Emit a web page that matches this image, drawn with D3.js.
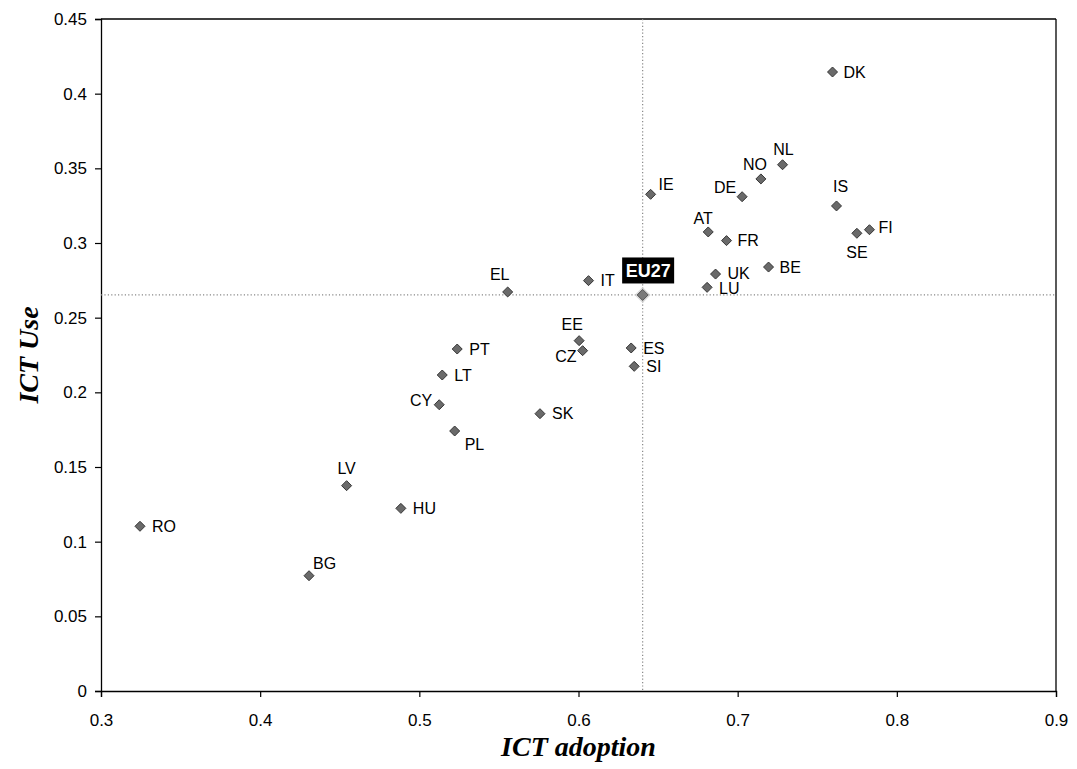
<!DOCTYPE html>
<html>
<head>
<meta charset="utf-8">
<script src="https://cdn.jsdelivr.net/npm/d3@7"></script>
<style>
  html, body { margin: 0; padding: 0; background: #fff; }
  svg { display: block; }
</style>
</head>
<body>
<svg id="chart" width="1077" height="769"></svg>
<script>
// ---- Data ----
const countries = ["DK","NL","NO","DE","IE","AT","FR","IS","SE","FI","BE","UK","LU","IT","EE","CZ","ES","SI","SK","EL","PT","LT","CY","PL","LV","HU","RO","BG"];
const ictAdoption = [0.7596,0.7282,0.7146,0.7028,0.6453,0.6815,0.6930,0.7621,0.7749,0.7828,0.7194,0.6861,0.6808,0.6063,0.6004,0.6026,0.6331,0.6350,0.5758,0.5555,0.5238,0.5144,0.5125,0.5222,0.4543,0.4884,0.3245,0.4307];
const ictUse      = [0.4145,0.3524,0.3429,0.3310,0.3326,0.3074,0.3016,0.3248,0.3065,0.3089,0.2839,0.2792,0.2703,0.2748,0.2346,0.2279,0.2297,0.2174,0.1857,0.2672,0.2290,0.2116,0.1917,0.1741,0.1375,0.1223,0.1103,0.0772];
const euLabel = "EU27";
const euAdoption = 0.6403;
const euUse = 0.2652;
const xTicks = [0.3,0.4,0.5,0.6,0.7,0.8,0.9];
const yTicks = [0,0.05,0.1,0.15,0.2,0.25,0.3,0.35,0.4,0.45];
const xTitle = "ICT adoption";
const yTitle = "ICT Use";

// ---- Label placement (layout only) ----
const labelOffsets = {
  DK:[11,0,"start"], NL:[1,-16,"middle"], NO:[-6,-15,"middle"], DE:[-6,-9,"end"],
  IE:[8,-10,"start"], AT:[-5,-14,"middle"], FR:[11,0,"start"], IS:[4,-20,"middle"],
  SE:[0,19,"middle"], FI:[9,-2,"start"], BE:[11,0,"start"], UK:[12,-1,"start"],
  LU:[12,1,"start"], IT:[12,0,"start"], EE:[-7,-16,"middle"], CZ:[-6,6,"end"],
  ES:[12,0,"start"], SI:[12,0,"start"], SK:[12,0,"start"], EL:[-8,-18,"middle"],
  PT:[12,0,"start"], LT:[12,0,"start"], CY:[-7,-4,"end"], PL:[10,13,"start"],
  LV:[0,-17,"middle"], HU:[12,0,"start"], RO:[12,0,"start"], BG:[4,-12,"start"]
};

const svg = d3.select("#chart");
const x = d3.scaleLinear().domain([0.3, 0.9]).range([101, 1056]);
const y = d3.scaleLinear().domain([0, 0.45]).range([691, 19]);

const fmt = d => String(+d.toFixed(2));

// frame (top & right)
svg.append("line").attr("x1", x(0.3)).attr("x2", x(0.9)).attr("y1", y(0.45)).attr("y2", y(0.45))
  .attr("stroke", "#000").attr("stroke-width", 1.3);
svg.append("line").attr("x1", x(0.9)).attr("x2", x(0.9)).attr("y1", y(0.45)).attr("y2", y(0))
  .attr("stroke", "#000").attr("stroke-width", 1.3);

// axes
const xAxis = svg.append("g").attr("transform", `translate(0,${y(0)})`)
  .call(d3.axisBottom(x).tickValues(xTicks).tickFormat(fmt).tickSizeOuter(0).tickSize(6).tickPadding(17));
const yAxis = svg.append("g").attr("transform", `translate(${x(0.3)},0)`)
  .call(d3.axisLeft(y).tickValues(yTicks).tickFormat(fmt).tickSizeOuter(0).tickSize(6).tickPadding(8));
[xAxis, yAxis].forEach(g => {
  g.select(".domain").attr("stroke", "#000").attr("stroke-width", 1.3);
  g.selectAll(".tick line").attr("stroke", "#000").attr("stroke-width", 1.2);
  g.selectAll(".tick text").attr("font-family", "Liberation Sans, Arial, sans-serif")
    .attr("font-size", 17).attr("fill", "#000");
});

// reference lines through EU27
svg.append("line").attr("x1", x(euAdoption)).attr("x2", x(euAdoption)).attr("y1", y(0.45)).attr("y2", y(0))
  .attr("stroke", "#888").attr("stroke-width", 1.2).attr("stroke-dasharray", "1.2,2.2");
svg.append("line").attr("x1", x(0.3)).attr("x2", x(0.9)).attr("y1", y(euUse)).attr("y2", y(euUse))
  .attr("stroke", "#888").attr("stroke-width", 1.2).attr("stroke-dasharray", "1.2,2.2");

// points
const data = countries.map((c, i) => ({ c, xa: ictAdoption[i], yu: ictUse[i] }));
const diamondPath = "M0,-5L5,0L0,5L-5,0Z";

svg.append("g").selectAll("path").data(data).join("path")
  .attr("d", diamondPath)
  .attr("transform", d => `translate(${x(d.xa)},${y(d.yu)})`)
  .attr("fill", "#6a6a6a").attr("stroke", "#363636").attr("stroke-width", 1);

svg.append("g").selectAll("text").data(data).join("text")
  .attr("x", d => x(d.xa) + labelOffsets[d.c][0])
  .attr("y", d => y(d.yu) + labelOffsets[d.c][1])
  .attr("dy", "0.36em")
  .attr("text-anchor", d => labelOffsets[d.c][2])
  .attr("font-family", "Liberation Sans, Arial, sans-serif")
  .attr("font-size", 16).attr("fill", "#000")
  .text(d => d.c);

// EU27 marker
const ex = x(euAdoption), ey = y(euUse);
svg.append("path").attr("d", "M0,-8L8,0L0,8L-8,0Z").attr("transform", `translate(${ex},${ey})`)
  .attr("fill", "#cfcfcf").attr("opacity", 0.8);
svg.append("path").attr("d", "M0,-5.5L5.5,0L0,5.5L-5.5,0Z").attr("transform", `translate(${ex},${ey})`)
  .attr("fill", "#7a7a7a").attr("stroke", "#555").attr("stroke-width", 1);
svg.append("rect").attr("x", ex - 20.5).attr("y", ey - 37.5).attr("width", 52).attr("height", 26)
  .attr("fill", "#000");
svg.append("text").attr("x", ex + 5.5).attr("y", ey - 24.5).attr("dy", "0.36em")
  .attr("text-anchor", "middle").attr("font-family", "Liberation Sans, Arial, sans-serif")
  .attr("font-weight", "bold").attr("font-size", 18).attr("fill", "#fff").text(euLabel);

// axis titles
svg.append("text").attr("x", (x(0.3) + x(0.9)) / 2).attr("y", 756)
  .attr("text-anchor", "middle").attr("font-family", "Liberation Serif, Times New Roman, serif")
  .attr("font-weight", "bold").attr("font-style", "italic").attr("font-size", 28).text(xTitle);
svg.append("text").attr("transform", `translate(38,${(y(0) + y(0.45)) / 2}) rotate(-90)`)
  .attr("text-anchor", "middle").attr("font-family", "Liberation Serif, Times New Roman, serif")
  .attr("font-weight", "bold").attr("font-style", "italic").attr("font-size", 28).text(yTitle);
</script>
</body>
</html>
